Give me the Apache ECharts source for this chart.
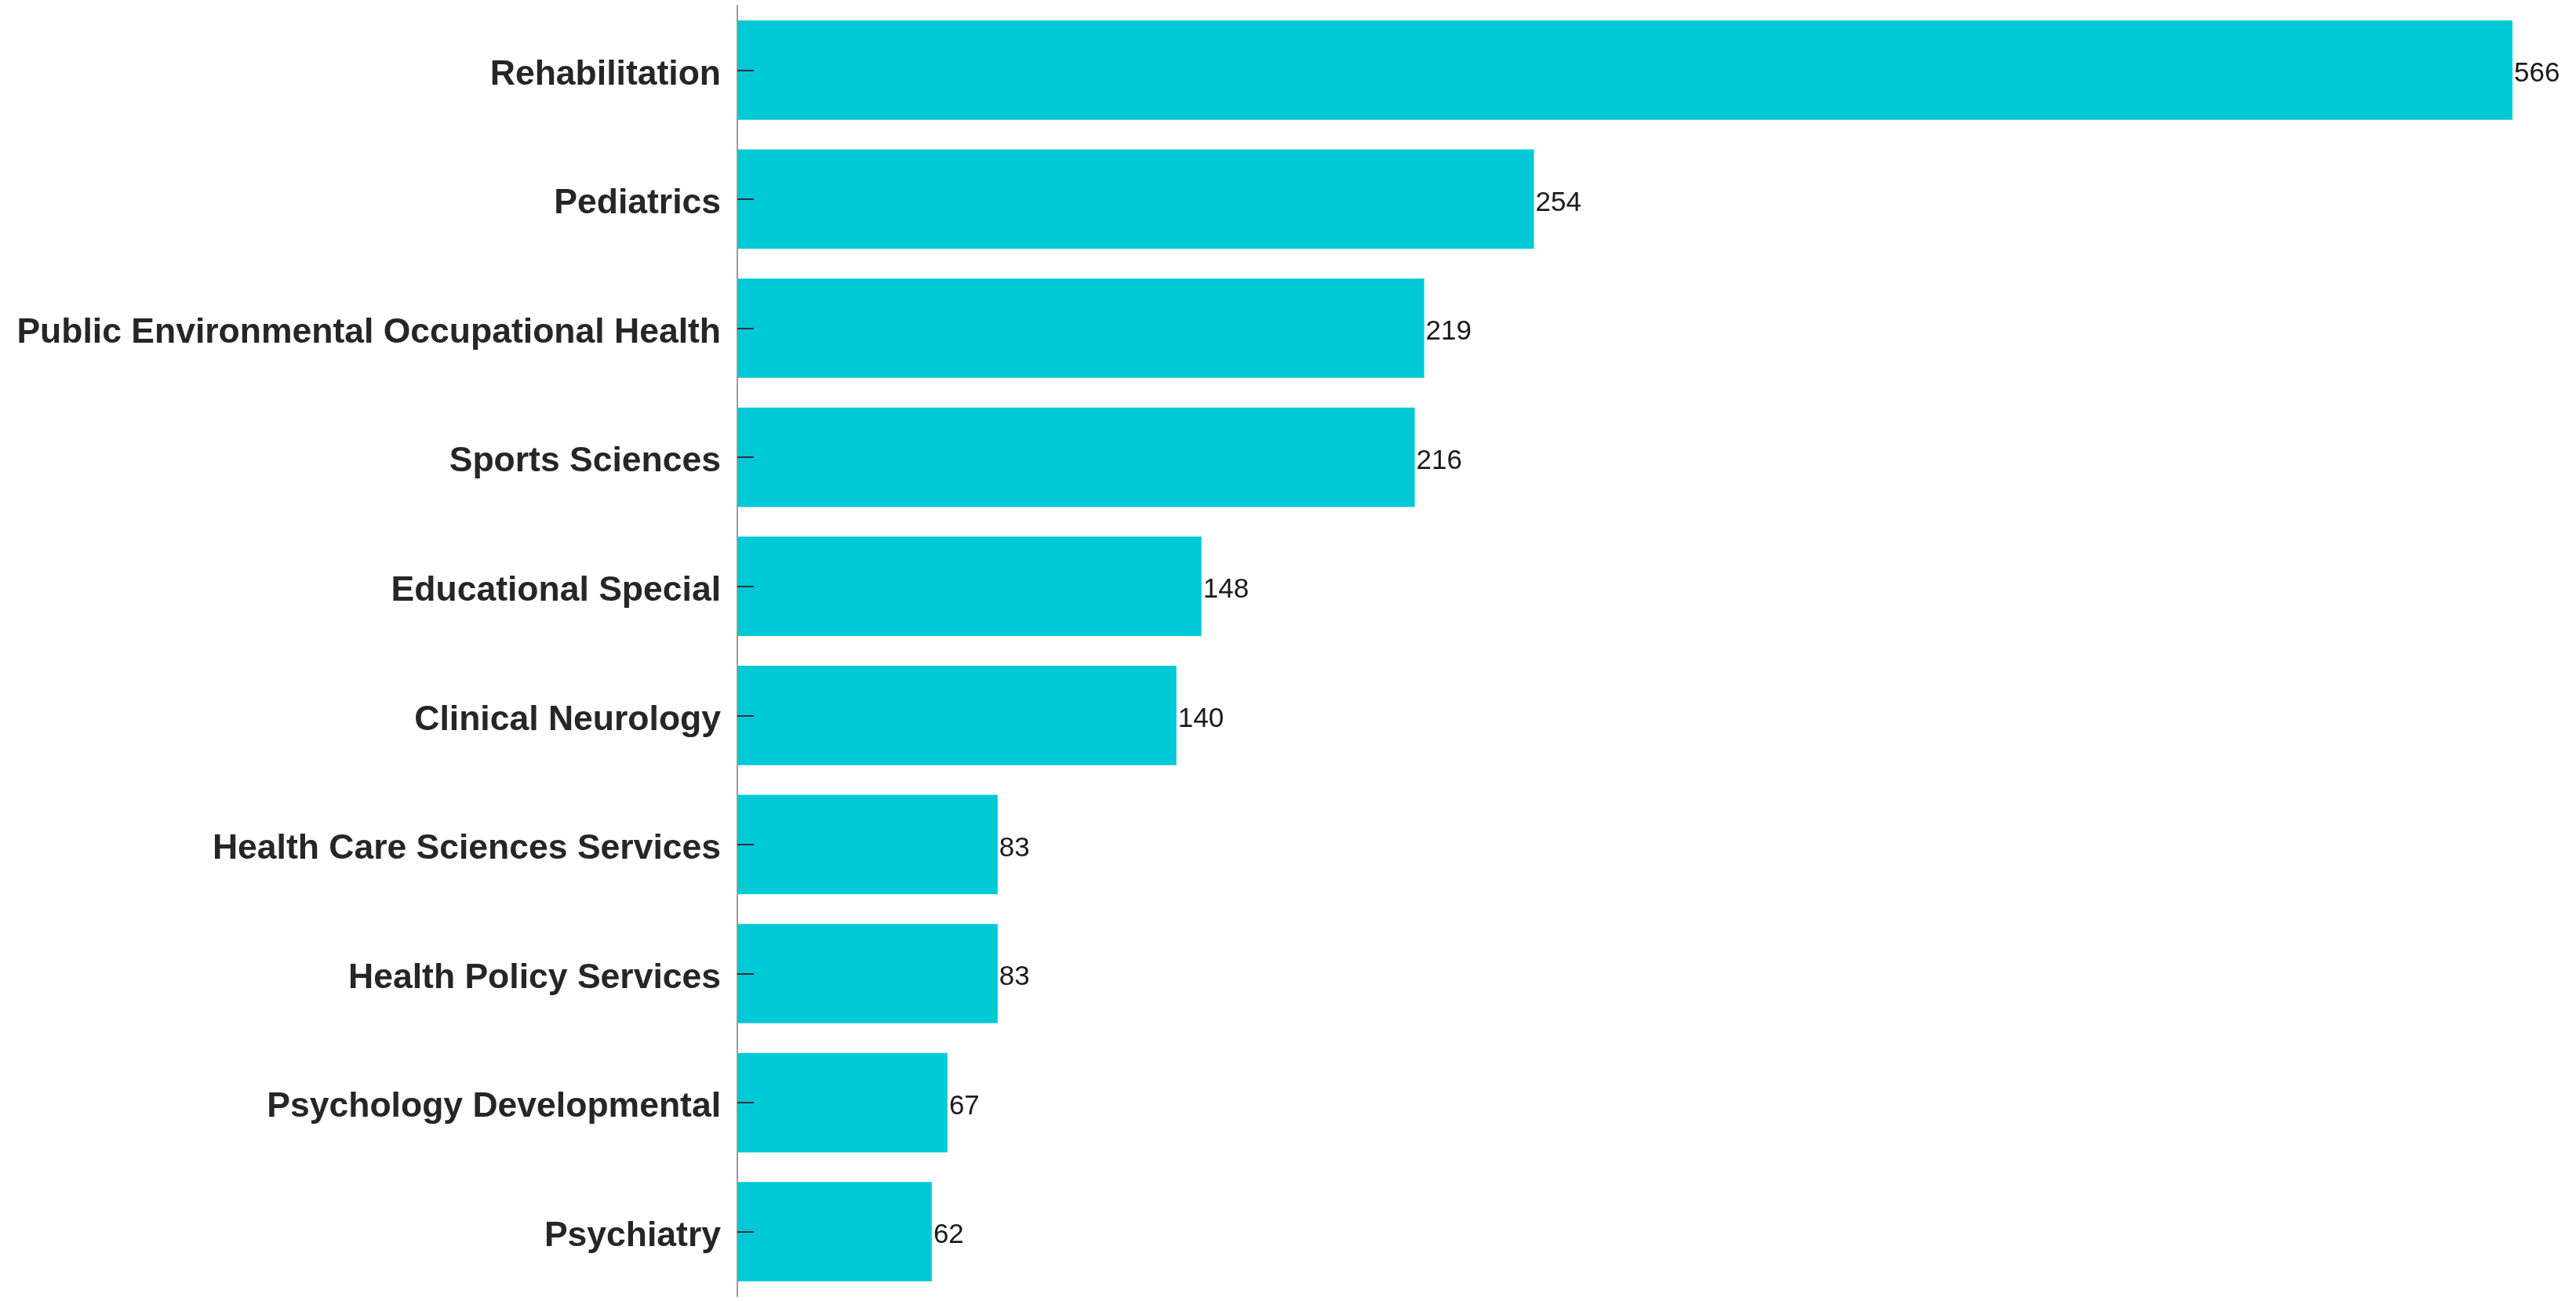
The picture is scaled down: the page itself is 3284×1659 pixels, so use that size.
<!DOCTYPE html>
<html>
<head>
<meta charset="utf-8">
<style>html,body{margin:0;padding:0;background:#fff;}#chart{width:3284px;height:1659px;}</style>
<script src="https://cdn.jsdelivr.net/npm/echarts@6/dist/echarts.min.js"></script>
</head>
<body>
<div id="chart"></div>
<script>
const categories = [
  "Rehabilitation",
  "Pediatrics",
  "Public Environmental Occupational Health",
  "Sports Sciences",
  "Educational Special",
  "Clinical Neurology",
  "Health Care Sciences Services",
  "Health Policy Services",
  "Psychology Developmental",
  "Psychiatry"
];
const values = [566, 254, 219, 216, 148, 140, 83, 83, 67, 62];

const chart = echarts.init(document.getElementById('chart'), null, {renderer: 'canvas'});
chart.setOption({
  animation: false,
  backgroundColor: '#ffffff',
  grid: {left: 940, right: 81, top: 7, bottom: 6, containLabel: false},
  xAxis: {
    type: 'value',
    min: 0,
    max: 'dataMax',
    show: false
  },
  yAxis: {
    type: 'category',
    data: categories,
    inverse: true,
    z: 10,
    axisLine: {show: true, lineStyle: {color: '#9a9a9a', width: 2}},
    axisTick: {show: true, inside: true, length: 21, alignWithLabel: true, lineStyle: {color: '#333333', width: 2}},
    axisLabel: {
      margin: 21,
      formatter: function (v) { return '{a|' + v + '}'; },
      rich: {
        a: {
          fontFamily: 'Liberation Sans, Arial, sans-serif',
          fontWeight: 'bold',
          fontSize: 44.5,
          color: '#262626',
          padding: [12, 0, 0, 0]
        }
      }
    },
    splitLine: {show: false}
  },
  series: [{
    type: 'bar',
    data: values,
    z: 2,
    barCategoryGap: '23%',
    itemStyle: {color: '#00C9D7'},
    label: {
      show: true,
      position: 'right',
      distance: 2,
      formatter: function (p) { return '{b|' + p.value + '}'; },
      rich: {
        b: {
          fontFamily: 'Liberation Sans, Arial, sans-serif',
          fontSize: 35,
          color: '#1a1a1a',
          padding: [10, 0, 0, 0]
        }
      }
    }
  }]
});
</script>
</body>
</html>
